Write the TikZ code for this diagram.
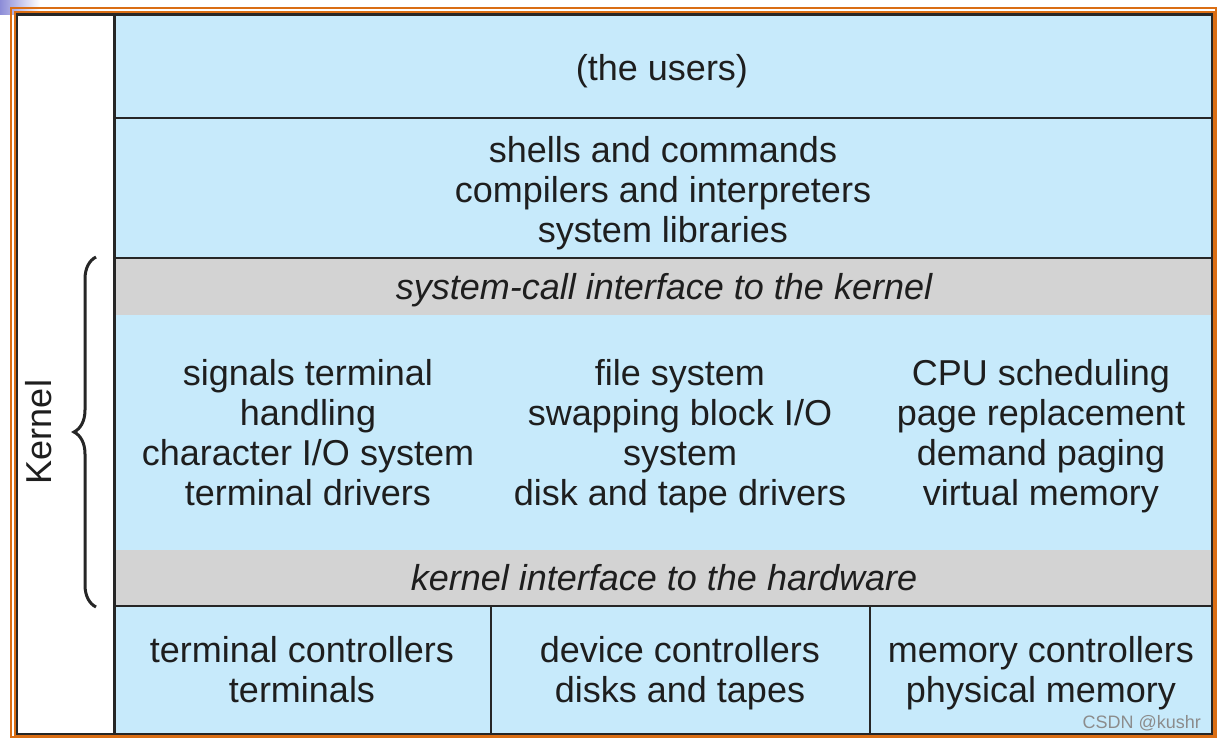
\documentclass[tikz,border=0pt]{standalone}
\usepackage{fontspec}
\setmainfont{Liberation Sans}
\usepackage{xcolor}
\usetikzlibrary{positioning, calc, decorations.pathreplacing}

\definecolor{layerblue}{RGB}{199,234,251}
\definecolor{bandgray}{RGB}{211,211,211}
\definecolor{slideorange}{RGB}{218,110,20}
\definecolor{slidecorner}{RGB}{140,140,215}
\definecolor{inkgray}{RGB}{30,30,30}

\begin{document}
\begin{tikzpicture}[x=1pt, y=-1pt,
    txt/.style={font=\fontsize{36}{40}\selectfont, text=inkgray, align=center, inner sep=0pt},
    itxt/.style={txt, font=\fontsize{36}{40}\selectfont\itshape},
    sepline/.style={draw=black!85, line width=2.5pt}]

    \useasboundingbox (0,0) rectangle (1218,739);
    \fill[white] (0,0) rectangle (1218,739);

    % --- Slide corner and frame ---
    \shade[left color=slidecorner, right color=white] (0,0) rectangle (40,14);
    \draw[slideorange, line width=2.2pt] (11,8) rectangle (1216,737);
    \draw[slideorange, line width=2pt] (15,12) rectangle (1213.5,735.5);

    % --- Layer fills ---
    \fill[layerblue] (115,15) rectangle (1212,734);
    \fill[bandgray] (115,258) rectangle (1212,315); % system-call band
    \fill[bandgray] (115,550) rectangle (1212,606); % hardware band

    % --- Separating lines ---
    \draw[sepline] (115,118) -- (1212,118);
    \draw[sepline] (115,258) -- (1212,258);
    \draw[sepline] (115,606) -- (1212,606);
    \draw[sepline] (491,606) -- (491,734);
    \draw[sepline] (870,606) -- (870,734);
    \draw[sepline] (114.5,14.5) -- (114.5,734);
    \draw[sepline] (17,14.5) rectangle (1212,734);

    % --- User space ---
    \node[txt, anchor=base] (users) at (662,80) {(the users)};
    \node[txt, anchor=north] (shells) at (663,134)
        {\strut shells and commands\\compilers and interpreters\\system libraries};

    % --- Kernel ---
    \node[itxt, anchor=base] (syscall) at (664,299) {system-call interface to the kernel};
    \node[txt, anchor=north] (termsys) at (308,357)
        {\strut signals terminal\\handling\\character I/O system\\terminal drivers};
    \node[txt, anchor=north] (filesys) at (680,357)
        {\strut file system\\swapping block I/O\\system\\disk and tape drivers};
    \node[txt, anchor=north] (cpusched) at (1041,357)
        {\strut CPU scheduling\\page replacement\\demand paging\\virtual memory};
    \node[itxt, anchor=base] (hwiface) at (664,590) {kernel interface to the hardware};

    % --- Hardware ---
    \node[txt, anchor=north] (termctl) at (302,634) {\strut terminal controllers\\terminals};
    \node[txt, anchor=north] (devctl) at (680,634) {\strut device controllers\\disks and tapes};
    \node[txt, anchor=north] (memctl) at (1041,634) {\strut memory controllers\\physical memory};

    % --- Kernel brace ---
    \coordinate (braceTop) at (96,257);
    \coordinate (braceBot) at (96,607);
    \draw[decorate, decoration={brace, amplitude=22pt}, line width=3pt, black!85]
        (braceBot) -- (braceTop);
    \node[txt, rotate=90] (kernel) at (39,432) {Kernel};

    % watermark
    \node[font=\fontsize{18}{20}\selectfont, text=black!45, anchor=base east, inner sep=0pt]
        (mark) at (1201,728.5) {CSDN @kushr};

\end{tikzpicture}
\end{document}
